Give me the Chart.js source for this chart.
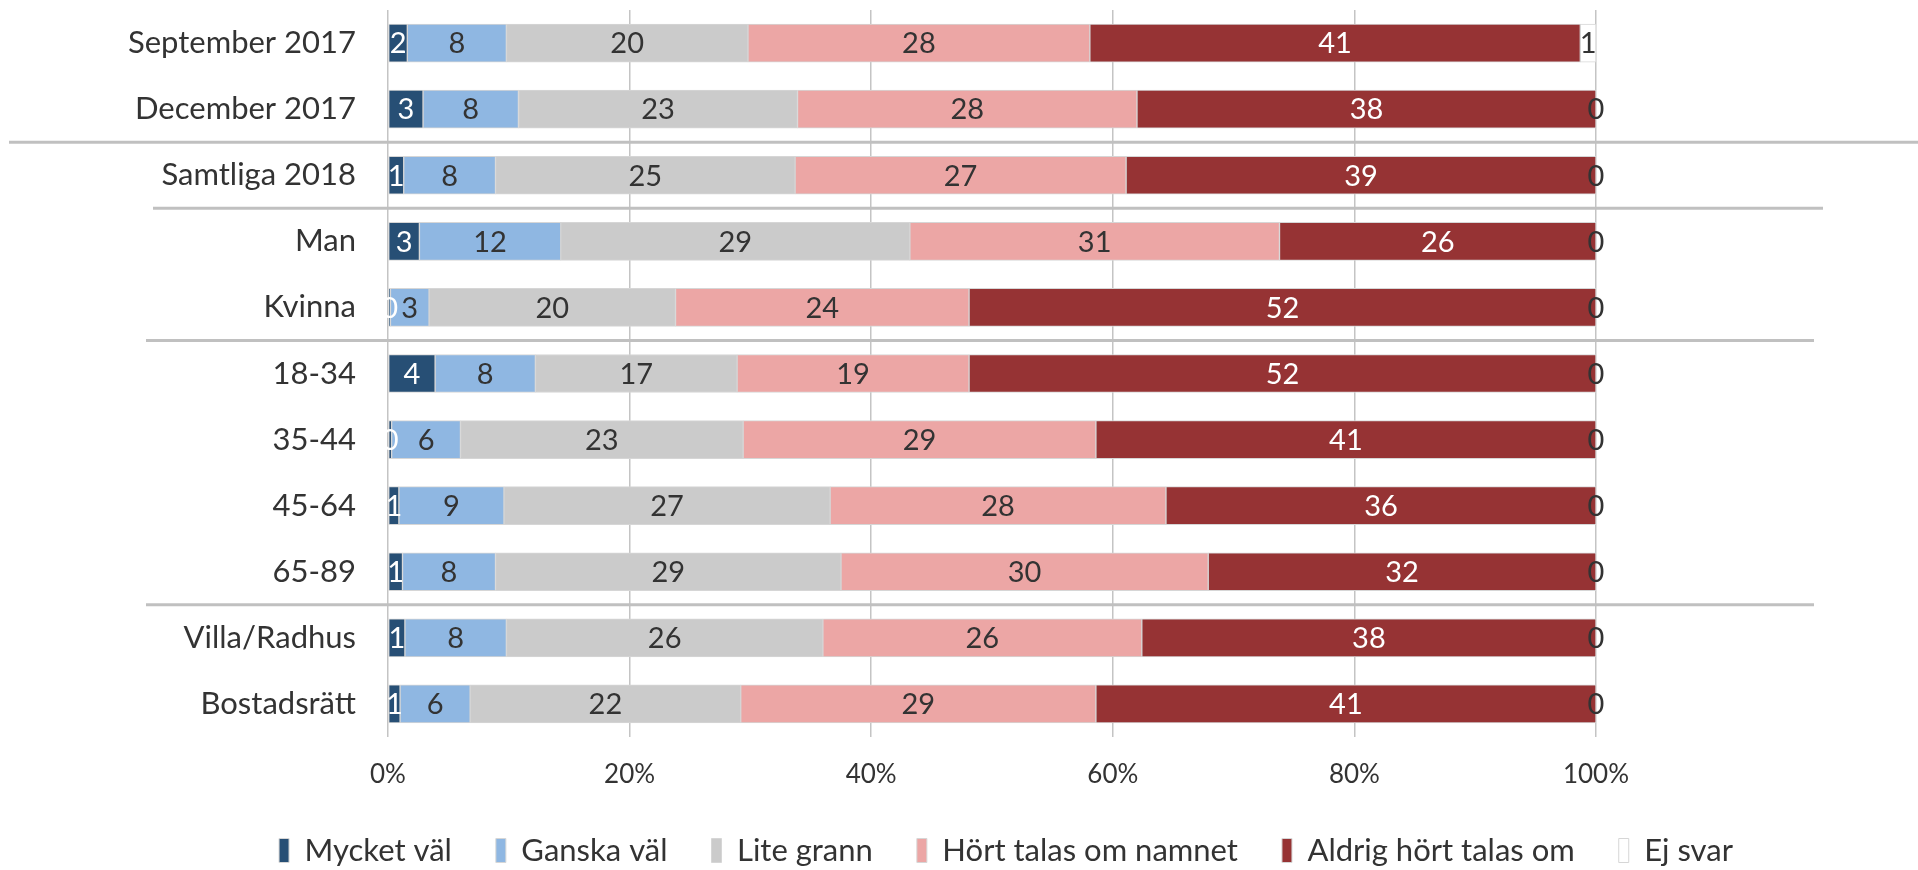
<!DOCTYPE html>
<html>
<head>
<meta charset="utf-8">
<script src="https://cdn.jsdelivr.net/npm/chart.js@4.4.1/dist/chart.umd.min.js"></script>
<style>
  html, body { margin: 0; padding: 0; background: #fff; }
  #wrap { width: 1918px; height: 870px; }
</style>
</head>
<body>
<div id="wrap"><canvas id="chart" width="1918" height="870"></canvas></div>
<script>
const categories = ['September 2017', 'December 2017', 'Samtliga 2018', 'Man', 'Kvinna', '18-34', '35-44', '45-64', '65-89', 'Villa/Radhus', 'Bostadsrätt'];
const seriesNames = ['Mycket väl', 'Ganska väl', 'Lite grann', 'Hört talas om namnet', 'Aldrig hört talas om', 'Ej svar'];

const mycketVal = [1.6, 2.9, 1.3, 2.6, 0.2, 3.9, 0.3, 0.9, 1.2, 1.4, 1.0];
const ganskaVal = [8.2, 7.9, 7.6, 11.7, 3.2, 8.3, 5.7, 8.7, 7.7, 8.4, 5.8];
const liteGrann = [20.0, 23.1, 24.8, 28.9, 20.4, 16.7, 23.4, 27.0, 28.6, 26.2, 22.4];
const hortTalas = [28.3, 28.1, 27.4, 30.6, 24.3, 19.2, 29.2, 27.8, 30.4, 26.4, 29.4];
const aldrigHort = [40.6, 38.0, 38.9, 26.2, 51.9, 51.9, 41.4, 35.6, 32.1, 37.6, 41.4];
const ejSvar = [1.3, 0, 0, 0, 0, 0, 0, 0, 0, 0, 0];

const xTicks = [0, 20, 40, 60, 80, 100];

const colors = ['#274f75', '#8fb7e2', '#cbcbcb', '#eca6a5', '#963334', '#ffffff'];
const labelColors = ['#ffffff', '#333333', '#333333', '#333333', '#ffffff', '#333333'];

const FONT = 'Lato, "Open Sans", sans-serif';

// separators between groups: drawn between category i and i+1
const separators = [
    { after: 1, x1: 9, x2: 1918 },
    { after: 2, x1: 153, x2: 1823 },
    { after: 4, x1: 146, x2: 1814 },
    { after: 8, x1: 146, x2: 1814 },
];

const groupLines = {
    id: 'groupLines',
    afterDraw(chart) {
        const ctx = chart.ctx;
        const y = chart.scales.y;
        ctx.save();
        ctx.strokeStyle = '#c0c0c0';
        ctx.lineWidth = 3;
        separators.forEach(s => {
            const py = (y.getPixelForValue(s.after) + y.getPixelForValue(s.after + 1)) / 2;
            ctx.beginPath();
            ctx.moveTo(s.x1, py);
            ctx.lineTo(s.x2, py);
            ctx.stroke();
        });
        ctx.restore();
    }
};

const barLabels = {
    id: 'barLabels',
    afterDatasetsDraw(chart) {
        const ctx = chart.ctx;
        ctx.save();
        ctx.font = '29px ' + FONT;
        ctx.textAlign = 'center';
        ctx.textBaseline = 'middle';
        chart.data.datasets.forEach((ds, di) => {
            const meta = chart.getDatasetMeta(di);
            meta.data.forEach((bar, i) => {
                const cx = (bar.x + bar.base) / 2;
                ctx.fillStyle = labelColors[di];
                ctx.fillText(String(Math.round(ds.data[i])), cx, bar.y + 1);
            });
        });
        ctx.restore();
    }
};

// legend: fixed height, and centred a bit right of the canvas middle
const legendFit = {
    id: 'legendFit',
    beforeInit(chart) {
        const fit = chart.legend.fit;
        chart.legend.fit = function () {
            fit.call(this);
            this.height = 79;
        };
    },
    beforeDraw(chart) {
        chart.legend.left = 94;
        chart.legend.right = 1918;
    }
};

const seriesData = [mycketVal, ganskaVal, liteGrann, hortTalas, aldrigHort, ejSvar];

new Chart(document.getElementById('chart'), {
    type: 'bar',
    data: {
        labels: categories,
        datasets: seriesNames.map((name, i) => ({
            label: name,
            data: seriesData[i],
            backgroundColor: colors[i],
            borderColor: '#d6d6d6',
            borderWidth: 1,
            borderSkipped: false,
            barThickness: 38,
        })),
    },
    options: {
        indexAxis: 'y',
        responsive: false,
        animation: false,
        layout: { padding: { top: 10, right: 322, left: 0, bottom: 0 } },
        scales: {
            x: {
                stacked: true,
                min: 0,
                max: 100,
                afterBuildTicks: (scale) => { scale.ticks = xTicks.map(v => ({ value: v })); },
                afterFit: (scale) => { scale.height = 54; },
                grid: { color: '#c4c4c4', lineWidth: 1.5, drawTicks: false },
                border: { display: false },
                ticks: {
                    padding: 22,
                    color: '#333333',
                    font: { family: FONT, size: 26 },
                    callback: (v) => v + '%',
                },
            },
            y: {
                stacked: true,
                afterFit: (scale) => {
                    scale.width = 388;
                    scale.paddingTop = 0;
                    scale.paddingBottom = 0;
                },
                grid: { display: false },
                border: { display: false },
                ticks: {
                    padding: 24,
                    color: '#333333',
                    font: { family: FONT, size: 31 },
                },
            },
        },
        plugins: {
            tooltip: { enabled: false },
            legend: {
                position: 'bottom',
                labels: {
                    boxWidth: 10,
                    boxHeight: 24,
                    padding: 44,
                    color: '#333333',
                    font: { family: FONT, size: 31 },
                },
            },
        },
    },
    plugins: [groupLines, barLabels, legendFit],
});
</script>
</body>
</html>
